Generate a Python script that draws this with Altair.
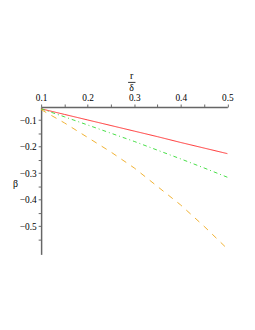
import altair as alt
import pandas as pd

x_vals = [0.1, 0.15, 0.2, 0.25, 0.3, 0.35, 0.4, 0.45, 0.5]
red_vals = [-0.057, -0.078, -0.099, -0.120, -0.141, -0.162, -0.184, -0.205, -0.226]
green_vals = [-0.057, -0.087, -0.118, -0.149, -0.180, -0.213, -0.246, -0.280, -0.315]
orange_vals = [-0.060, -0.110, -0.165, -0.220, -0.280, -0.350, -0.420, -0.500, -0.585]
x_ticks = [0.1, 0.15, 0.2, 0.25, 0.3, 0.35, 0.4, 0.45, 0.5]
y_ticks = [-0.1, -0.15, -0.2, -0.25, -0.3, -0.35, -0.4, -0.45, -0.5, -0.55]

rows = []
for name, vals in [("red", red_vals), ("green", green_vals), ("orange", orange_vals)]:
    for xv, yv in zip(x_vals, vals):
        rows.append({"x": xv, "y": yv, "s": name})
df = pd.DataFrame(rows)

FONT = "Liberation Serif"
xs = alt.Scale(domain=[0.1, 0.5], nice=False, zero=False)
ys = alt.Scale(domain=[-0.606, -0.05], nice=False, zero=False)

hide_minor = "abs(round(datum.value*10) - datum.value*10) < 0.01 ? datum.label : ''"

common = dict(format=".1f", title=None, grid=False, domainColor="#666", tickColor="#666",
              labelFont=FONT, labelFontSize=9.5, labelColor="black", tickSize=3,
              labelPadding=2, domainWidth=1.5, labelFlush=False, labelExpr=hide_minor,
              labelOverlap=False)
xaxis = alt.Axis(orient="top", values=x_ticks, **common)
yaxis = alt.Axis(orient="left", values=y_ticks, **common)

def line(name, color, dash):
    return alt.Chart(df[df.s == name]).mark_line(color=color, strokeWidth=1, strokeDash=dash).encode(
        x=alt.X("x:Q", scale=xs, axis=xaxis),
        y=alt.Y("y:Q", scale=ys, axis=yaxis),
    )

red = line("red", "#ff3030", [1, 0])
green = line("green", "#44dd44", [4, 3, 1, 3])
orange = line("orange", "#f0b030", [6, 6])

titles = pd.DataFrame({"t": ["r", "δ", "β"], "px": [92, 92, -26], "py": [-31, -19, 78]})
tx = alt.Chart(titles).mark_text(font=FONT, fontSize=10, color="black").encode(
    x=alt.X("px:Q", scale=None), y=alt.Y("py:Q", scale=None), text="t:N")
bar = alt.Chart(pd.DataFrame({"a": [0]})).mark_rule(color="black", strokeWidth=0.8).encode(
    x=alt.value(88.5), x2=alt.value(96), y=alt.value(-25))

chart = alt.layer(red, green, orange, tx, bar).properties(
    width=189.5, height=150,
    autosize=alt.AutoSizeParams(type="none"),
    padding={"left": 33.7, "top": 98, "right": 20, "bottom": 60},
).configure_view(stroke=None)

chart.save("out.html", embed_options={"renderer": "svg", "actions": False})
